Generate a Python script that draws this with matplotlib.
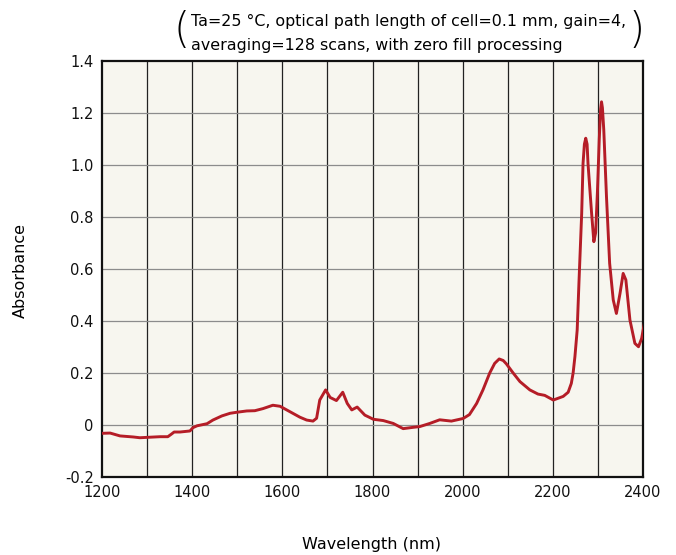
import matplotlib
matplotlib.use("Agg")
import matplotlib.pyplot as plt

wavelength = [1200, 1218, 1240, 1269, 1284, 1306, 1329, 1346, 1354, 1360, 1373, 1395, 1402, 1411,
              1433, 1446, 1466, 1484, 1499, 1521, 1539, 1557, 1579, 1595, 1617, 1639, 1654, 1668,
              1676, 1683, 1696, 1706, 1720, 1734, 1744, 1754, 1766, 1783, 1802, 1824, 1846, 1868,
              1890, 1905, 1927, 1949, 1975, 2001, 2015, 2031, 2045, 2060, 2071, 2081, 2090, 2097,
              2112, 2127, 2149, 2167, 2182, 2201, 2223, 2234, 2241, 2245, 2249, 2254, 2258, 2264,
              2267, 2270, 2273, 2276, 2278, 2286, 2291, 2295, 2299, 2303, 2306, 2308, 2310, 2313,
              2319, 2326, 2334, 2341, 2349, 2356, 2362, 2371, 2382, 2390, 2397, 2403]
absorbance = [-0.032, -0.031, -0.042, -0.046, -0.049, -0.047, -0.045, -0.045, -0.035, -0.027, -0.027,
              -0.023, -0.010, -0.003, 0.005, 0.019, 0.035, 0.045, 0.049, 0.054, 0.055, 0.063, 0.076,
              0.072, 0.051, 0.030, 0.019, 0.015, 0.026, 0.096, 0.135, 0.106, 0.094, 0.126, 0.083,
              0.058, 0.069, 0.038, 0.022, 0.017, 0.006, -0.014, -0.009, -0.006, 0.006, 0.020, 0.015,
              0.025, 0.040, 0.083, 0.135, 0.200, 0.237, 0.254, 0.248, 0.235, 0.200, 0.167, 0.135,
              0.119, 0.114, 0.096, 0.110, 0.126, 0.160, 0.200, 0.263, 0.365, 0.550, 0.814, 1.006,
              1.080, 1.103, 1.080, 1.006, 0.814, 0.705, 0.740, 0.900, 1.100, 1.215, 1.243, 1.220,
              1.135, 0.878, 0.622, 0.481, 0.429, 0.506, 0.583, 0.558, 0.404, 0.314, 0.301, 0.333,
              0.391]

x_ticks = [1200, 1400, 1600, 1800, 2000, 2200, 2400]
y_ticks = [-0.2, 0, 0.2, 0.4, 0.6, 0.8, 1.0, 1.2, 1.4]
y_tick_labels = ["-0.2", "0", "0.2", "0.4", "0.6", "0.8", "1.0", "1.2", "1.4"]
note_line1 = "Ta=25 °C, optical path length of cell=0.1 mm, gain=4,"
note_line2 = "averaging=128 scans, with zero fill processing"

plt.rcParams['font.family'] = ['DejaVu Sans']

fig = plt.figure(figsize=(6.76, 5.55), dpi=100)
ax = fig.add_axes([102/676, 1 - 477/555, (643 - 102)/676, (477 - 61)/555])
ax.set_facecolor('#f7f6ef')

# grid
for xv in range(1300, 2400, 100):
    ax.axvline(xv, color='#222222', lw=0.9, zorder=1)
for yv in [0, 0.2, 0.4, 0.6, 0.8, 1.0, 1.2]:
    ax.axhline(yv, color='#8c8c8c', lw=0.9, zorder=1)

ax.plot(wavelength, absorbance, color='#b51d27', lw=2.1, zorder=3,
        solid_joinstyle='round', solid_capstyle='round')

ax.set_xlim(1200, 2400)
ax.set_ylim(-0.2, 1.4)
ax.set_xticks(x_ticks)
ax.set_yticks(y_ticks)
ax.set_yticklabels(y_tick_labels)
ax.tick_params(length=0, labelsize=10.5, colors='#111111', pad=6)
for s in ax.spines.values():
    s.set_linewidth(1.6)
    s.set_color('#111111')

fig.text(20/676, 1 - 270/555, "Absorbance", rotation=90, ha='center', va='center', fontsize=11.5)
fig.text(372/676, 1 - 544/555, "Wavelength (nm)", ha='center', va='center', fontsize=11.5)

fig.text(191/676, 1 - 21/555, note_line1, ha='left', va='center', fontsize=11.4)
fig.text(191/676, 1 - 45/555, note_line2, ha='left', va='center', fontsize=11.4)
fig.text(182/676, 1 - 31/555, "(", ha='center', va='center', fontsize=30, fontweight='light')
fig.text(637/676, 1 - 31/555, ")", ha='center', va='center', fontsize=30, fontweight='light')

fig.savefig("out.png", dpi=100)
